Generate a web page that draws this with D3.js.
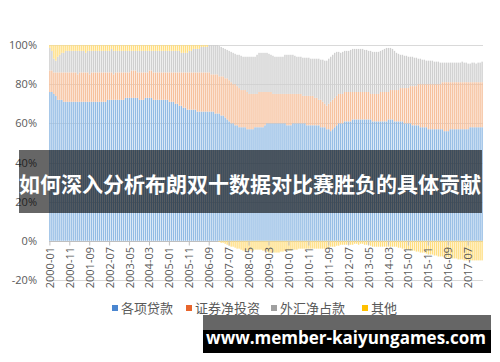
<!DOCTYPE html>
<html>
<head>
<meta charset="utf-8">
<script src="https://cdn.jsdelivr.net/npm/d3@7"></script>
<style>
  body { margin: 0; background: #fff; }
  svg { display: block; }
</style>
</head>
<body>
<svg width="500" height="362"></svg>
<script>
// monthly shares (%), 2000-01 .. 2018-02
var loans = [
  76,76,75,74,72,72,72,71,71,71,71,71,
  71,71,71,71,71,71,71,71,71,71,71,71,
  71,71,71,71,71,72,72,72,72,72,72,72,
  72,72,73,73,73,73,73,73,73,72,72,72,
  73,73,73,73,72,72,72,72,72,72,72,72,
  71,71,71,70,70,69,69,68,68,67,67,67,
  67,67,66,66,66,66,66,66,66,66,66,65,
  65,65,64,64,63,62,61,60,60,59,59,58,
  58,58,58,57,57,57,57,58,58,58,58,58,
  59,60,60,60,60,60,60,60,60,60,60,59,
  59,59,60,60,60,60,60,60,60,59,59,59,
  59,59,59,59,58,58,58,57,57,56,57,58,
  59,60,60,60,61,61,61,61,62,62,62,62,
  62,62,62,62,62,62,61,61,61,61,61,61,
  61,61,62,62,62,61,61,61,61,61,60,60,
  60,60,59,59,59,59,58,58,58,58,57,57,
  57,57,57,57,57,57,56,56,56,57,57,57,
  57,57,57,57,57,57,57,58,58,58,58,58,
  58,58
];
var securities = [
  11,11,11,12,14,14,14,15,15,15,15,15,
  15,15,14,15,15,15,15,15,14,15,15,15,
  15,15,15,15,15,14,14,14,13,14,14,14,
  14,14,13,13,13,14,14,14,13,14,14,14,
  13,13,14,14,14,14,14,14,14,14,14,14,
  15,15,15,16,16,17,17,18,18,19,19,19,
  19,19,20,20,20,20,20,20,20,19,19,20,
  20,19,20,20,20,21,21,21,20,21,20,20,
  19,19,19,19,18,18,18,17,17,18,18,18,
  17,16,16,16,15,15,15,15,15,15,15,16,
  16,16,15,15,15,15,15,14,14,15,15,15,
  15,14,14,13,14,13,12,12,13,15,15,15,
  15,15,15,15,15,15,15,15,14,14,14,14,
  14,14,14,14,14,13,14,14,14,14,15,15,
  15,15,14,15,15,16,16,16,17,17,18,18,
  18,19,20,20,20,21,22,22,22,22,23,23,
  23,23,23,23,23,24,25,25,25,24,24,24,
  24,24,24,24,24,24,24,23,23,23,23,23,
  23,23
];
var fxReserve = [
  11.5,10,7,6,8,9,10,10,11,11,11,11,
  11,11,12,11,11,11,10,11,12,11,11,11,
  11,11,11,11,11,11,11,12,12,11,11,11,
  11,11,11,11,11,10,10,10,11,11,11,11,
  11,11,10,10,11,11,11,11,11,11,11,11,
  11,11,11,11,11,11,10,10,10,10,11,11,
  12,12,12,12,13,13,13,13,14,15,15,15,
  15,15.5,15,14.5,15,14.5,15,15.5,16,15.5,16,17,
  17.5,17,17,18,19,19,19,19,20,20,20,20,
  20,20,19.5,19,19.5,19,19,19,19,19,20,20,
  20,20,20,19.5,19,19,19,19.5,19.5,19.5,19.5,19,
  19,20,20,21,20.5,21.5,22,23,23,23,23,23,
  22.5,21.5,21,21.5,21,21,21,21.5,22,22,22,22,
  22,22,21.5,21.5,21,22,21.5,21.5,21.5,21.5,21,21.5,
  22,22.5,22.5,21.5,21,20,19,18.5,17,17,16.5,16.5,
  16,15,15,14.5,14.5,13,13,12.5,12.5,12,12,12,
  12,11.5,11.5,11.5,11,10,10,10,10,10,10,10,
  10,10,10,10.5,10,10,9.5,9.5,10,10,9.5,10,
  10,10.5
];
var other = [
  1.5,3,7,8,6,5,4,4,3,3,3,3,
  3,3,3,3,3,3,4,3,3,3,3,3,
  3,3,3,3,3,3,3,2,3,3,3,3,
  3,3,3,3,3,3,3,3,3,3,3,3,
  3,3,3,3,3,3,3,3,3,3,3,3,
  3,3,3,3,3,3,4,4,4,4,3,3,
  2,2,2,2,1,1,1,1,0,0,0,0,
  0,-0.5,-1,-1,-1.5,-2,-2.5,-3,-3,-3.5,-4,-4,
  -4.5,-5,-5,-5,-5,-5,-5,-4.5,-4.5,-4.5,-4.5,-5,
  -5,-5.5,-6,-6,-6,-6,-6,-6,-5.5,-5.5,-5,-5,
  -5,-5,-4.5,-4.5,-4.5,-4,-4,-4,-4,-4,-4,-4,
  -4,-4,-4,-4,-4,-4,-4,-4,-3.5,-3,-3,-3,
  -2.5,-2.5,-2,-2,-2,-2,-2,-2,-2,-1.5,-1.5,-2,
  -1.5,-1.5,-2,-2,-2,-2.5,-3,-3,-3,-3,-3,-3,
  -3,-3,-3,-3,-3,-3,-3,-3.5,-3.5,-4,-4,-4.5,
  -4.5,-5,-5,-5,-5.5,-5.5,-6,-6,-6,-6.5,-7,-7,
  -7,-7.5,-7.5,-8,-8,-8,-8.5,-8.5,-8.5,-9,-9,-9,
  -9,-9.5,-9.5,-9.5,-10,-10,-10,-10,-10,-10,-10,-10,
  -10,-10
];

var seriesNames = ["各项贷款", "证券净投资", "外汇净占款", "其他"];
var barColors = ["#92bbe4", "#f6c09c", "#cfcfcf", "#ffde80"];
var legendColors = ["#4a86d0", "#e8652c", "#a0a0a0", "#ffc000"];
var yTicks = [-20, 0, 20, 40, 60, 80, 100];
var xTickLabels = ["2000-01","2000-11","2001-09","2002-07","2003-05","2004-03",
  "2005-01","2005-11","2006-09","2007-07","2008-05","2009-03","2010-01","2010-11",
  "2011-09","2012-07","2013-05","2014-03","2015-01","2015-11","2016-09","2017-07"];

var fmt = d3.timeFormat("%Y-%m");
var months = d3.timeMonth.range(new Date(2000, 0, 1), new Date(2018, 2, 1)).map(fmt);

var rows = months.map(function(m, i) {
  return { month: m, loans: loans[i], securities: securities[i], fxReserve: fxReserve[i], other: other[i] };
});
var keys = ["loans", "securities", "fxReserve", "other"];

var svg = d3.select("svg");
var plotLeft = 49, plotRight = 483, plotTop = 45, plotBottom = 280;

var x = d3.scaleBand().domain(months).range([plotLeft, plotRight]).paddingInner(0.32).paddingOuter(0.1);
var y = d3.scaleLinear().domain([-20, 100]).range([plotBottom, plotTop]);

// gridlines
svg.append("g").selectAll("line")
  .data(yTicks).enter().append("line")
  .attr("x1", plotLeft).attr("x2", plotRight)
  .attr("y1", function(d) { return Math.round(y(d)) + 0.5; })
  .attr("y2", function(d) { return Math.round(y(d)) + 0.5; })
  .attr("stroke", function(d) { return d === 0 ? "#bfbfbf" : "#d9d9d9"; })
  .attr("stroke-width", 1);

var stack = d3.stack().keys(keys).offset(d3.stackOffsetDiverging);
var layers = stack(rows);

svg.append("g").selectAll("g")
  .data(layers).enter().append("g")
  .attr("fill", function(d, i) { return barColors[i]; })
  .selectAll("rect")
  .data(function(d) { return d; })
  .enter().append("rect")
  .attr("x", function(d) { return x(d.data.month); })
  .attr("width", x.bandwidth())
  .attr("y", function(d) { return y(Math.max(d[0], d[1])); })
  .attr("height", function(d) { return Math.abs(y(d[0]) - y(d[1])); });

// y axis labels
svg.append("g").selectAll("text")
  .data(yTicks).enter().append("text")
  .attr("x", 37).attr("y", function(d) { return y(d) + 4; })
  .attr("text-anchor", "end")
  .attr("font-family", "Open Sans, sans-serif")
  .attr("font-size", 11)
  .attr("fill", "#595959")
  .text(function(d) { return d + "%"; });

// x tick marks and labels
var z = Math.round(y(0)) + 0.5;
svg.append("g").selectAll("line")
  .data(xTickLabels).enter().append("line")
  .attr("x1", function(d) { return x(d) + x.bandwidth() / 2; })
  .attr("x2", function(d) { return x(d) + x.bandwidth() / 2; })
  .attr("y1", z).attr("y2", z + 4)
  .attr("stroke", "#bfbfbf");

svg.append("g").selectAll("text")
  .data(xTickLabels).enter().append("text")
  .attr("transform", function(d) {
    return "translate(" + (x(d) + x.bandwidth() / 2 + 4) + "," + 247 + ") rotate(-90)";
  })
  .attr("text-anchor", "end")
  .attr("font-family", "Open Sans, sans-serif")
  .attr("font-size", 11)
  .attr("fill", "#595959")
  .text(function(d) { return d; });

// legend
var legendX = [112, 186, 271, 362];
var lg = svg.append("g").selectAll("g")
  .data(seriesNames).enter().append("g")
  .attr("transform", function(d, i) { return "translate(" + legendX[i] + ",308)"; });
lg.append("rect").attr("x", 0).attr("y", -3).attr("width", 6).attr("height", 6)
  .attr("fill", function(d, i) { return legendColors[i]; });
lg.append("text").attr("x", 9).attr("y", 5)
  .attr("font-family", "Noto Sans CJK SC, sans-serif")
  .attr("font-size", 13)
  .attr("fill", "#595959")
  .text(function(d) { return d; });

// title banner over the chart
svg.append("rect").attr("x", 19).attr("y", 150).attr("width", 463).attr("height", 63)
  .attr("fill", "rgba(0,0,0,0.6)");
svg.append("text").attr("x", 250).attr("y", 192)
  .attr("text-anchor", "middle")
  .attr("font-family", "Noto Sans CJK SC, sans-serif")
  .attr("font-weight", "bold")
  .attr("font-size", 21)
  .attr("fill", "#fff")
  .text("如何深入分析布朗双十数据对比赛胜负的具体贡献");

// bottom site banner
svg.append("rect").attr("x", 203).attr("y", 315).attr("width", 288).attr("height", 15)
  .attr("fill", "rgba(0,0,0,0.6)");
svg.append("rect").attr("x", 203).attr("y", 330).attr("width", 288).attr("height", 23)
  .attr("fill", "#000");
svg.append("text").attr("x", 346).attr("y", 344)
  .attr("text-anchor", "middle")
  .attr("font-family", "Open Sans, sans-serif")
  .attr("font-weight", "bold")
  .attr("font-size", 17)
  .attr("fill", "#fff")
  .text("www.member-kaiyungames.com");
</script>
</body>
</html>
